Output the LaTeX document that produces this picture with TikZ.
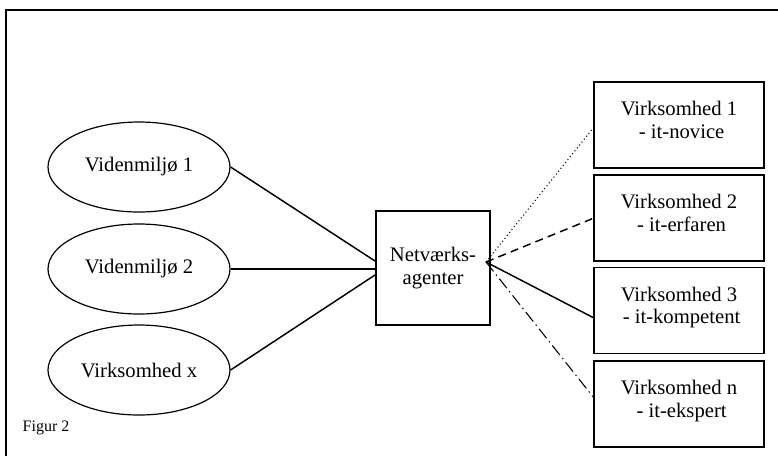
\documentclass[tikz,border=0pt]{standalone}
\usepackage{fontspec}
\setmainfont{Liberation Serif}
\usetikzlibrary{shapes.geometric}
\begin{document}
\begin{tikzpicture}[x=0.75pt,y=-0.75pt,
  ell/.style={draw,ellipse,line width=0.9pt,minimum width=136.5pt,minimum height=67.5pt,inner sep=0pt,font=\fontsize{15.5}{17}\selectfont},
  bx/.style={draw,rectangle,line width=1.3pt,inner sep=0pt,align=center,font=\fontsize{15.5}{17}\selectfont},
  conn/.style={line width=1.1pt}]
\useasboundingbox (0,0) rectangle (778,455);
\clip (0,0) rectangle (778,455);
\fill[white] (0,0) rectangle (778,455);
\draw[line width=1.3pt] (6,10) rectangle (800,480);
\node[ell] (e1) at (139,167) {Videnmiljø 1};
\node[ell] (e2) at (139,269) {Videnmiljø 2};
\node[ell] (e3) at (139,370) {Virksomhed x};
\node[bx,minimum width=85.5pt,minimum height=85.5pt] (net) at (433,268) {Netværks-\\agenter};
\node[bx,minimum width=127.5pt,minimum height=64.5pt,text depth=8pt] (v1) at (679,125) {Virksomhed 1\\\ - it-novice};
\node[bx,minimum width=127.5pt,minimum height=64.5pt,text depth=8pt] (v2) at (679,218) {Virksomhed 2\\\ - it-erfaren};
\node[bx,minimum width=127.5pt,minimum height=64.5pt,text depth=8pt] (v3) at (679,310.5) {Virksomhed 3\\\ - it-kompetent};
\node[bx,minimum width=127.5pt,minimum height=64.5pt,text depth=8pt] (vn) at (679,404) {Virksomhed n\\\ - it-ekspert};
\node[anchor=west,font=\fontsize{12}{14}\selectfont] (fig) at (18,428) {Figur 2};
\coordinate (in1) at (375,261);
\coordinate (in2) at (375,269);
\coordinate (in3) at (375,275);
\coordinate (hub) at (486,262);
\coordinate (t1) at (594,127);
\coordinate (t2) at (594,218);
\coordinate (t3) at (594,318);
\coordinate (t4) at (594,398);
\draw[conn] (e1.east) -- (in1);
\draw[conn] (e2.east) -- (in2);
\draw[conn] (e3.east) -- (in3);
\draw[conn,line width=0.8pt,dotted] (hub) -- (t1);
\draw[conn,dash pattern=on 6pt off 4pt] (hub) -- (t2);
\draw[conn] (hub) -- (t3);
\draw[conn,line width=0.8pt,dash pattern=on 9pt off 3pt on 1pt off 3pt] (hub) -- (t4);
\end{tikzpicture}
\end{document}
